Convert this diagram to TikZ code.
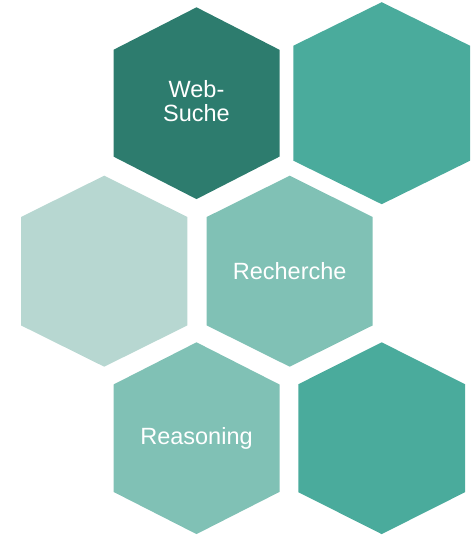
\documentclass[tikz,border=0pt]{standalone}
\usepackage{fontspec}
\setmainfont{Liberation Sans}
\definecolor{hexdark}{HTML}{2D7C6E}
\definecolor{hexmid}{HTML}{4AAB9C}
\definecolor{hexsoft}{HTML}{80C1B5}
\definecolor{hexpale}{HTML}{B7D7D1}
% #1 cx, #2 cy, #3 half width, #4 half height, #5 side offset, #6 colour
\newcommand\hexfill[6]{%
  \fill[#6] (#1,#2-#4) -- (#1+#3,#2-#5) -- (#1+#3,#2+#5) -- (#1,#2+#4)
    -- (#1-#3,#2+#5) -- (#1-#3,#2-#5) -- cycle;}
\begin{document}
\begin{tikzpicture}[x=1pt,y=-1pt,
  hexlabel/.style={text=white,align=center,font=\fontsize{23.5}{24}\selectfont,inner sep=0pt}]
\useasboundingbox (0,0) rectangle (472,536);
\hexfill{196.5}{103.2}{83}{95.9}{53.4}{hexdark}
\hexfill{381.7}{103.2}{88.3}{101}{57.5}{hexmid}
\hexfill{104.2}{271.2}{83.2}{95.5}{54.2}{hexpale}
\hexfill{289.7}{271.2}{83}{95.5}{54.2}{hexsoft}
\hexfill{196.5}{438.2}{83}{95.9}{53.7}{hexsoft}
\hexfill{381.7}{438.2}{83.3}{95.9}{54}{hexmid}
\node[hexlabel] (web) at (196.5,101.5) {Web-\\Suche};
\node[hexlabel] (rech) at (289.7,271) {Recherche};
\node[hexlabel] (reas) at (196.5,438) {Reasoning};
\end{tikzpicture}
\end{document}
